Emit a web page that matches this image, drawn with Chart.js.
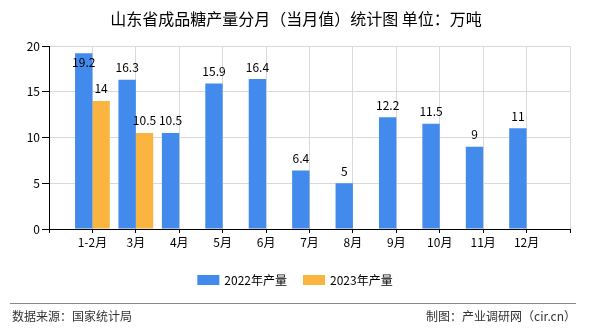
<!DOCTYPE html>
<html>
<head>
<meta charset="utf-8">
<script src="https://cdn.jsdelivr.net/npm/chart.js@4"></script>
<style>
body{margin:0;background:#fff;}
canvas{display:block;}
</style>
</head>
<body>
<canvas id="chart" width="590" height="330"></canvas>
<script>
const categories=['1-2月','3月','4月','5月','6月','7月','8月','9月','10月','11月','12月'];
const output2022=[19.2,16.3,10.5,15.9,16.4,6.4,5,12.2,11.5,9,11];
const output2023=[14,10.5,null,null,null,null,null,null,null,null,null];
const seriesNames=['2022年产量','2023年产量'];
const seriesColors=['#428bec','#fcb441'];
const yTicks=[0,5,10,15,20];

const FONT='"Noto Sans CJK SC","Liberation Sans",sans-serif';
// empty slot on each side of the categories
const pad=a=>[null,...a,null];

const overlay={
 id:'overlay',
 afterDatasetsDraw(c){
  const ctx=c.ctx,top=c.chartArea.top;
  ctx.save();
  ctx.font='12px '+FONT;ctx.fillStyle='#000';ctx.textAlign='center';ctx.textBaseline='middle';
  c.data.datasets.forEach((ds,i)=>{
   c.getDatasetMeta(i).data.forEach((el,j)=>{
    const v=ds.data[j];if(v==null)return;
    ctx.fillText(String(v),el.x,Math.max(el.y-12,top+16));
   });
  });
  ctx.restore();
 },
 afterDraw(c){
  const ctx=c.ctx;
  ctx.save();
  ctx.fillStyle='#000';ctx.textAlign='center';ctx.textBaseline='middle';
  ctx.font='16px '+FONT;
  ctx.fillText('山东省成品糖产量分月（当月值）统计图 单位：万吨',296,19);
  // legend
  ctx.font='12px '+FONT;
  const w=seriesNames.map(s=>ctx.measureText(s).width);
  let total=w.reduce((a,b)=>a+b,0)+2*(22+5)+16;
  let x=295-total/2;
  ctx.textAlign='left';
  seriesNames.forEach((s,i)=>{
   ctx.fillStyle=seriesColors[i];ctx.fillRect(x,275,22,10);
   ctx.fillStyle='#000';ctx.fillText(s,x+27,280);
   x+=27+w[i]+16;
  });
  // footer
  ctx.strokeStyle='#888';ctx.lineWidth=1;
  ctx.beginPath();ctx.moveTo(10,303.5);ctx.lineTo(576,303.5);ctx.stroke();
  ctx.fillStyle='#333';
  ctx.fillText('数据来源：国家统计局',12,316);
  ctx.textAlign='right';
  ctx.fillText('制图：产业调研网（cir.cn）',576,316);
  ctx.restore();
 }
};

new Chart(document.getElementById('chart'),{
 type:'bar',
 data:{
  labels:['',...categories,''],
  datasets:[
   {label:seriesNames[0],data:pad(output2022),backgroundColor:seriesColors[0]},
   {label:seriesNames[1],data:pad(output2023),backgroundColor:seriesColors[1]}
  ]
 },
 options:{
  responsive:false,animation:false,
  layout:{padding:{left:9,right:20,top:46,bottom:81}},
  datasets:{bar:{barPercentage:1,categoryPercentage:0.8}},
  plugins:{legend:{display:false},title:{display:false},tooltip:{enabled:false}},
  scales:{
   x:{
    offset:false,
    grid:{color:'#d9d9d9',tickColor:'#000',tickLength:4,offset:false},
    border:{color:'#000'},
    ticks:{font:{size:12,family:FONT},color:'#000',padding:2,maxRotation:0,autoSkip:false},
    afterFit(s){s.height=20;}
   },
   y:{
    min:yTicks[0],max:yTicks[yTicks.length-1],
    afterBuildTicks(s){s.ticks=yTicks.map(v=>({value:v}));},
    grid:{color:'#d9d9d9',tickColor:'#000',tickLength:7},
    border:{color:'#000'},
    ticks:{font:{size:12,family:FONT},color:'#000',padding:2},
    afterFit(s){s.width=40;}
   }
  }
 },
 plugins:[overlay]
});
</script>
</body>
</html>
